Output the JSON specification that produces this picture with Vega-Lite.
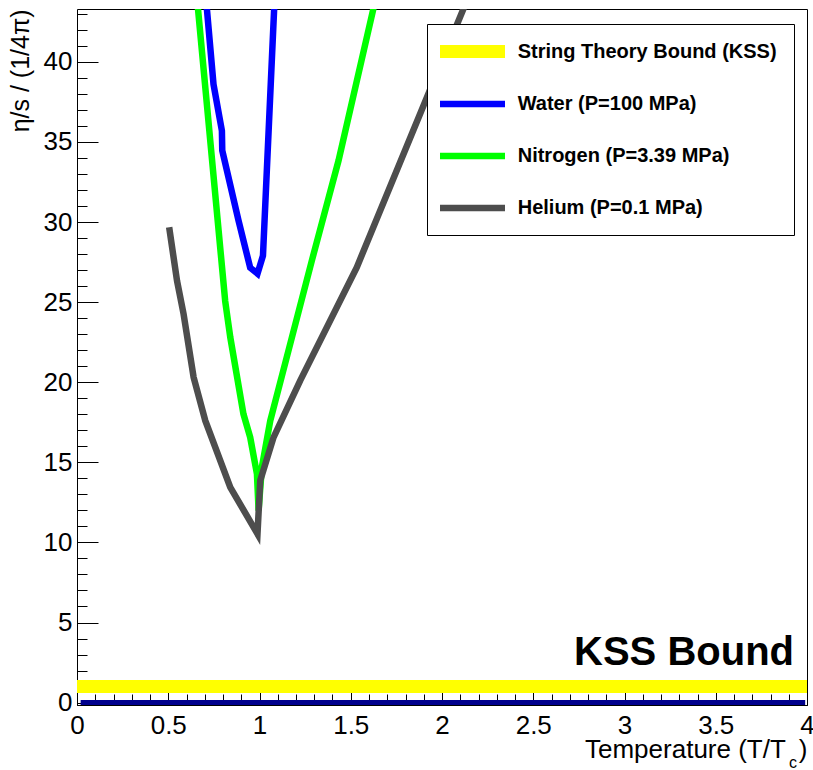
{
  "$schema": "https://vega.github.io/schema/vega-lite/v6.json",
  "width": 730,
  "height": 696,
  "autosize": {"type": "none"},
  "padding": {"left": 77, "top": 9, "right": 6, "bottom": 65},
  "background": "white",
  "config": {
    "view": {"stroke": "#000", "strokeWidth": 1},
    "axis": {
      "labelFont": "Liberation Sans", "labelFontSize": 26, "labelColor": "#000",
      "titleFont": "Liberation Sans", "titleFontSize": 26, "titleFontWeight": "normal", "titleColor": "#000",
      "tickColor": "#000", "tickWidth": 1, "domain": false, "grid": false,
      "labelFlush": false, "labelOverlap": false, "labelBound": false
    },
    "legend": {
      "orient": "none", "legendX": 350, "legendY": 15, "padding": 17,
      "strokeColor": "#000", "fillColor": "#fff", "cornerRadius": 0,
      "symbolType": "M-1,0H15.25", "symbolSize": 64, "symbolOffset": -10.5,
      "labelFont": "Liberation Sans", "labelFontWeight": "bold", "labelFontSize": 20, "labelColor": "#000",
      "labelOffset": 63.2, "rowPadding": 32, "labelLimit": 400
    }
  },
  "datasets": {
    "curves": [
      {"series": "String Theory Bound (KSS)", "i": 0, "x": 0, "y": 1},
      {"series": "String Theory Bound (KSS)", "i": 1, "x": 4, "y": 1},
      {"series": "Water (P=100 MPa)", "i": 0, "x": 0.691, "y": 46},
      {"series": "Water (P=100 MPa)", "i": 1, "x": 0.748, "y": 38.6},
      {"series": "Water (P=100 MPa)", "i": 2, "x": 0.794, "y": 35.7},
      {"series": "Water (P=100 MPa)", "i": 3, "x": 0.796, "y": 34.46},
      {"series": "Water (P=100 MPa)", "i": 4, "x": 0.885, "y": 30.09},
      {"series": "Water (P=100 MPa)", "i": 5, "x": 0.949, "y": 27.15},
      {"series": "Water (P=100 MPa)", "i": 6, "x": 0.989, "y": 26.78},
      {"series": "Water (P=100 MPa)", "i": 7, "x": 1.019, "y": 27.9},
      {"series": "Water (P=100 MPa)", "i": 8, "x": 1.091, "y": 46},
      {"series": "Nitrogen (P=3.39 MPa)", "i": 0, "x": 0.641, "y": 46},
      {"series": "Nitrogen (P=3.39 MPa)", "i": 1, "x": 0.812, "y": 25.06},
      {"series": "Nitrogen (P=3.39 MPa)", "i": 2, "x": 0.84, "y": 22.8},
      {"series": "Nitrogen (P=3.39 MPa)", "i": 3, "x": 0.912, "y": 18.02},
      {"series": "Nitrogen (P=3.39 MPa)", "i": 4, "x": 0.949, "y": 16.56},
      {"series": "Nitrogen (P=3.39 MPa)", "i": 5, "x": 0.986, "y": 14.28},
      {"series": "Nitrogen (P=3.39 MPa)", "i": 6, "x": 0.995, "y": 11.99},
      {"series": "Nitrogen (P=3.39 MPa)", "i": 7, "x": 1.013, "y": 14.69},
      {"series": "Nitrogen (P=3.39 MPa)", "i": 8, "x": 1.059, "y": 17.6},
      {"series": "Nitrogen (P=3.39 MPa)", "i": 9, "x": 1.287, "y": 27.6},
      {"series": "Nitrogen (P=3.39 MPa)", "i": 10, "x": 1.433, "y": 33.83},
      {"series": "Nitrogen (P=3.39 MPa)", "i": 11, "x": 1.678, "y": 46},
      {"series": "Helium (P=0.1 MPa)", "i": 0, "x": 0.505, "y": 29.67},
      {"series": "Helium (P=0.1 MPa)", "i": 1, "x": 0.548, "y": 26.34},
      {"series": "Helium (P=0.1 MPa)", "i": 2, "x": 0.584, "y": 24.26},
      {"series": "Helium (P=0.1 MPa)", "i": 3, "x": 0.639, "y": 20.31},
      {"series": "Helium (P=0.1 MPa)", "i": 4, "x": 0.703, "y": 17.6},
      {"series": "Helium (P=0.1 MPa)", "i": 5, "x": 0.84, "y": 13.44},
      {"series": "Helium (P=0.1 MPa)", "i": 6, "x": 0.989, "y": 10.53},
      {"series": "Helium (P=0.1 MPa)", "i": 7, "x": 1.004, "y": 13.86},
      {"series": "Helium (P=0.1 MPa)", "i": 8, "x": 1.077, "y": 16.56},
      {"series": "Helium (P=0.1 MPa)", "i": 9, "x": 1.223, "y": 20.1},
      {"series": "Helium (P=0.1 MPa)", "i": 10, "x": 1.533, "y": 27.17},
      {"series": "Helium (P=0.1 MPa)", "i": 11, "x": 1.917, "y": 37.78},
      {"series": "Helium (P=0.1 MPa)", "i": 12, "x": 2.215, "y": 46}
    ],
    "navy": [{"x": 0.02, "y": 0}, {"x": 3.99, "y": 0}],
    "note": [{"label": "KSS Bound", "x": 3.929, "y": 2.35}],
    "sub": [{"label": "c", "x": 3.923, "y": -4.08}]
  },
  "resolve": {"axis": {"x": "independent", "y": "independent"}},
  "layer": [
    {
      "data": {"name": "curves"},
      "mark": {"type": "line", "clip": true, "strokeCap": "butt", "strokeJoin": "miter"},
      "encoding": {
        "x": {"field": "x", "type": "quantitative",
          "scale": {"domain": [0, 4], "nice": false, "zero": false},
          "axis": {"orient": "bottom", "values": [0, 0.5, 1, 1.5, 2, 2.5, 3, 3.5, 4], "format": "~g",
            "ticks": false, "labelPadding": 7,
            "title": "Temperature (T/T\u2002)", "titleX": 730, "titleY": 52, "titleAlign": "right", "titleBaseline": "alphabetic"}},
        "y": {"field": "y", "type": "quantitative",
          "scale": {"domain": [-0.15, 43.3], "nice": false, "zero": false},
          "axis": {"orient": "left", "values": [0, 5, 10, 15, 20, 25, 30, 35, 40], "format": "~g",
            "ticks": false, "labelPadding": 5,
            "title": "η/s / (1/4π)", "titleFontSize": 25, "titleX": -49, "titleY": 0, "titleAlign": "right", "titleAngle": -90, "titleBaseline": "alphabetic"}},
        "color": {"field": "series", "type": "nominal",
          "scale": {"domain": ["String Theory Bound (KSS)", "Water (P=100 MPa)", "Nitrogen (P=3.39 MPa)", "Helium (P=0.1 MPa)"],
                    "range": ["#ffff00", "#0000ff", "#00ff00", "#4d4d4d"]},
          "legend": {"title": null, "encode": {"symbols": {"update": {"strokeJoin": {"value": "round"}}}}}},
        "strokeWidth": {"field": "series", "type": "nominal",
          "scale": {"type": "ordinal", "domain": ["String Theory Bound (KSS)", "Water (P=100 MPa)", "Nitrogen (P=3.39 MPa)", "Helium (P=0.1 MPa)"],
                    "range": [13, 6.5, 6.5, 6.5]},
          "legend": {"title": null, "encode": {"symbols": {"update": {"strokeJoin": {"value": "round"}}}}}},
        "order": {"field": "i", "type": "quantitative"}
      }
    },
    {
      "data": {"name": "navy"},
      "mark": {"type": "line", "color": "#00008c", "strokeWidth": 5, "strokeCap": "butt"},
      "encoding": {
        "x": {"field": "x", "type": "quantitative",
          "axis": {"orient": "bottom", "values": [0, 0.5, 1, 1.5, 2, 2.5, 3, 3.5, 4], "labels": false, "tickSize": -22, "title": null}},
        "y": {"field": "y", "type": "quantitative",
          "axis": {"orient": "left", "values": [0, 5, 10, 15, 20, 25, 30, 35, 40], "labels": false, "tickSize": -21, "title": null}}
      }
    },
    {
      "data": {"name": "note"},
      "mark": {"type": "text", "align": "right", "baseline": "alphabetic", "font": "Liberation Sans", "fontWeight": "bold", "fontSize": 40, "color": "#000"},
      "encoding": {
        "x": {"field": "x", "type": "quantitative",
          "axis": {"orient": "bottom", "values": [0, 0.1, 0.2, 0.3, 0.4, 0.5, 0.6, 0.7, 0.8, 0.9, 1, 1.1, 1.2, 1.3, 1.4, 1.5, 1.6, 1.7, 1.8, 1.9, 2, 2.1, 2.2, 2.3, 2.4, 2.5, 2.6, 2.7, 2.8, 2.9, 3, 3.1, 3.2, 3.3, 3.4, 3.5, 3.6, 3.7, 3.8, 3.9, 4], "labels": false, "tickSize": -11, "title": null}},
        "y": {"field": "y", "type": "quantitative",
          "axis": {"orient": "left", "values": [0, 1, 2, 3, 4, 5, 6, 7, 8, 9, 10, 11, 12, 13, 14, 15, 16, 17, 18, 19, 20, 21, 22, 23, 24, 25, 26, 27, 28, 29, 30, 31, 32, 33, 34, 35, 36, 37, 38, 39, 40, 41, 42, 43], "labels": false, "tickSize": -10, "title": null}},
        "text": {"field": "label"}
      }
    },
    {
      "data": {"name": "sub"},
      "mark": {"type": "text", "align": "center", "baseline": "alphabetic", "font": "Liberation Sans", "fontSize": 16, "color": "#000"},
      "encoding": {
        "x": {"field": "x", "type": "quantitative", "axis": null},
        "y": {"field": "y", "type": "quantitative", "axis": null},
        "text": {"field": "label"}
      }
    }
  ]
}
